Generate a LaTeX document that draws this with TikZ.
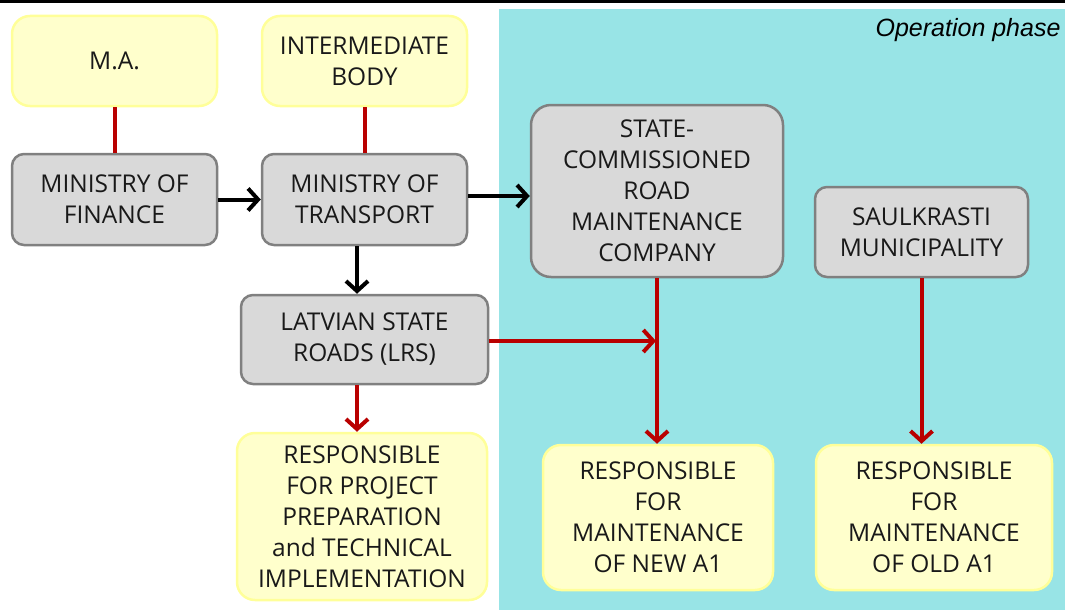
\documentclass[tikz,border=0pt]{standalone}
\usepackage{fontspec}
\setmainfont{Open Sans}
\newfontfamily\labelfont{Liberation Sans}
\usetikzlibrary{arrows.meta}
\definecolor{cyanbg}{RGB}{152,228,230}
\definecolor{yfill}{RGB}{255,255,204}
\definecolor{ydraw}{RGB}{255,255,153}
\definecolor{gfill}{RGB}{217,217,217}
\definecolor{gdraw}{RGB}{128,128,128}
\definecolor{darkred}{RGB}{185,0,0}
\tikzset{
  box/.style={rectangle, inner sep=0pt, align=center, text=black!90,
    font=\fontsize{24.5}{31}\selectfont},
  ybox/.style={box, fill=yfill, draw=ydraw, line width=2.5pt, rounded corners=18pt},
  gbox/.style={box, fill=gfill, draw=gdraw, line width=2.5pt, rounded corners=12pt},
  blk/.style={draw=black, line width=4pt, -{Straight Barb[length=10pt,width=22pt,line width=4pt]}},
  redarr/.style={draw=darkred, line width=4pt, -{Straight Barb[length=10pt,width=22pt,line width=4pt]}},
  redln/.style={draw=darkred, line width=4pt},
}
\begin{document}
\begin{tikzpicture}[x=1pt,y=-1pt]
\useasboundingbox (0,0) rectangle (1065,610);
\fill[white] (0,0) rectangle (1065,610);
\fill[cyanbg] (499,9) rectangle (1065,610);
\draw[line width=3.5pt] (0,1.75) -- (1065,1.75);
\node[font=\labelfont\itshape\fontsize{25}{28}\selectfont, anchor=east] (phase) at (1064,30) {Operation phase};

\node[ybox, minimum width=205pt, minimum height=90pt] (ma) at (114.5,61) {M.A.};
\node[ybox, minimum width=205pt, minimum height=90pt] (ib) at (364.5,61) {INTERMEDIATE\\BODY};
\node[gbox, minimum width=205pt, minimum height=91pt] (mof) at (114.5,199.5) {MINISTRY OF\\FINANCE};
\node[gbox, minimum width=205pt, minimum height=91pt] (mot) at (364.5,199.5) {MINISTRY OF\\TRANSPORT};
\node[gbox, rounded corners=20pt, minimum width=252pt, minimum height=172pt] (sc) at (657,191) {STATE-\\COMMISSIONED\\ROAD\\MAINTENANCE\\COMPANY};
\node[gbox, minimum width=213pt, minimum height=90pt] (sm) at (921.5,232) {SAULKRASTI\\MUNICIPALITY};
\node[gbox, minimum width=247pt, minimum height=89pt] (lrs) at (364.5,339.5) {LATVIAN STATE\\ROADS (LRS)};
\node[ybox, minimum width=250pt, minimum height=167pt] (rp) at (362,516.5) {RESPONSIBLE\\FOR PROJECT\\PREPARATION\\and TECHNICAL\\IMPLEMENTATION};
\node[ybox, minimum width=230pt, minimum height=145pt] (rn) at (658,517.5) {RESPONSIBLE\\FOR\\MAINTENANCE\\OF NEW A1};
\node[ybox, minimum width=236pt, minimum height=145pt] (ro) at (934,517.5) {RESPONSIBLE\\FOR\\MAINTENANCE\\OF OLD A1};

\draw[redln] (ma.south) -- (mof.north);
\draw[redln] (ib.south) -- (mot.north);
\draw[blk] (mof.east) -- (mot.west);
\draw[blk] (mot.east |- 0,196) -- (sc.west |- 0,196);
\draw[blk] (mot.south -| 357,0) -- (lrs.north -| 357,0);
\draw[redarr] (lrs.south -| 357,0) -- (rp.north -| 357,0);
\draw[redarr] (sc.south) -- (rn.north -| sc.south);
\coordinate (join) at (656,341);
\draw[redarr] (lrs.east |- join) -- (join);
\draw[redarr] (sm.south) -- (ro.north -| sm.south);
\end{tikzpicture}
\end{document}
